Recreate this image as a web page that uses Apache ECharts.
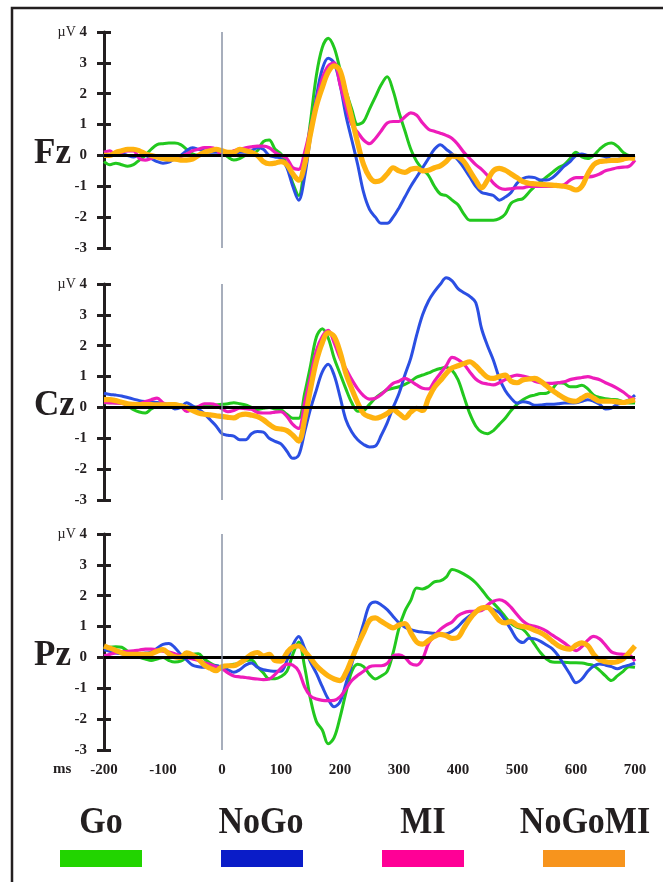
<!DOCTYPE html>
<html>
<head>
<meta charset="utf-8">
<script src="https://cdn.jsdelivr.net/npm/echarts@6/dist/echarts.min.js"></script>
<style>
  html, body { margin: 0; padding: 0; background: #fff; }
  #chart { width: 663px; height: 882px; }
</style>
</head>
<body>
<div id="chart"></div>
<script>
// sampling grid, 10 ms steps
var times = [];
for (var t = -200; t <= 700; t += 10) times.push(t);

var conditions = ['Go', 'NoGo', 'MI', 'NoGoMI'];
var panels = ['Fz', 'Cz', 'Pz'];
var xTicks = [-200, -100, 0, 100, 200, 300, 400, 500, 600, 700];
var yTicks = [-3, -2, -1, 0, 1, 2, 3, 4];

// Fz
var fzGo = [
  -0.2, -0.3, -0.25, -0.3, -0.35, -0.3, -0.15, 0.0, 0.2, 0.35,
  0.38, 0.4, 0.4, 0.35, 0.2, 0.05, 0.0, 0.1, 0.15, 0.15,
  0.1, -0.05, -0.15, -0.1, 0.0, 0.05, 0.15, 0.45, 0.5, 0.2,
  0.05, -0.3, -0.9, -1.3, -0.3, 1.1, 2.6, 3.5, 3.8, 3.5,
  2.8, 2.1, 1.5, 1.0, 1.1, 1.5, 1.9, 2.3, 2.55, 2.1,
  1.4, 0.8, 0.2, -0.2, -0.45, -0.65, -1.0, -1.25, -1.3, -1.45,
  -1.6, -1.9, -2.1, -2.1, -2.1, -2.1, -2.1, -2.05, -1.9, -1.55,
  -1.45, -1.4, -1.2, -1.0, -0.85, -0.7, -0.55, -0.4, -0.3, -0.1,
  0.1, -0.05, -0.1, 0.0, 0.2, 0.35, 0.4, 0.3, 0.1, 0.0,
  0.0];
var fzNoGo = [
  0.05, 0.0, 0.05, 0.05, 0.0, -0.05, 0.0, 0.0, -0.1, -0.2,
  -0.25, -0.22, -0.1, 0.0, 0.15, 0.25, 0.2, 0.15, 0.1, 0.1,
  0.1, 0.05, 0.05, 0.1, 0.1, 0.15, 0.25, 0.2, 0.0, -0.05,
  -0.1, -0.4, -1.0, -1.45, -0.7, 0.6, 1.9, 2.8, 3.15, 3.0,
  2.3, 1.3, 0.5, -0.3, -1.2, -1.75, -2.0, -2.2, -2.2, -2.0,
  -1.7, -1.35, -1.0, -0.7, -0.4, -0.1, 0.2, 0.35, 0.2, 0.05,
  -0.15, -0.4, -0.7, -1.0, -1.2, -1.25, -1.3, -1.45, -1.35, -1.2,
  -0.9, -0.75, -0.7, -0.72, -0.8, -0.8, -0.72, -0.55, -0.35, -0.2,
  0.0, 0.05, 0.0, 0.0, 0.0, -0.05, -0.12, -0.12, -0.1, -0.1,
  -0.08];
var fzMI = [
  0.1, 0.15, 0.0, 0.1, 0.15, 0.15, -0.1, -0.15, -0.1, -0.05,
  -0.05, -0.05, -0.05, -0.03, 0.05, 0.15, 0.2, 0.25, 0.25, 0.2,
  0.0, 0.05, 0.15, 0.2, 0.25, 0.28, 0.3, 0.3, 0.25, 0.1,
  0.0, -0.1, -0.4, -0.45, 0.1, 0.9, 1.75, 2.5, 2.9, 3.0,
  2.3, 1.6, 1.0, 0.75, 0.5, 0.38, 0.55, 0.8, 1.05, 1.1,
  1.1, 1.25, 1.38, 1.3, 1.05, 0.85, 0.78, 0.72, 0.65, 0.55,
  0.35, 0.1, -0.1, -0.3, -0.45, -0.65, -0.9, -1.05, -1.1, -1.08,
  -1.05, -1.05, -1.0, -1.0, -1.0, -1.0, -1.0, -1.0, -0.95, -0.8,
  -0.72, -0.72, -0.7, -0.67, -0.6, -0.5, -0.45, -0.4, -0.38, -0.35,
  -0.15];
var fzNoGoMI = [
  0.0, 0.0, 0.1, 0.15, 0.2, 0.2, 0.15, 0.05, 0.0, -0.05,
  -0.1, -0.12, -0.12, -0.15, -0.15, -0.12, 0.0, 0.1, 0.15, 0.2,
  0.15, 0.1, 0.1, 0.2, 0.15, 0.1, 0.0, -0.2, -0.27, -0.25,
  -0.2, -0.3, -0.6, -0.8, -0.3, 0.7, 1.6, 2.2, 2.7, 2.9,
  2.75, 2.0, 1.2, 0.4, -0.3, -0.7, -0.85, -0.8, -0.6, -0.4,
  -0.5, -0.55, -0.45, -0.42, -0.5, -0.48, -0.4, -0.34, -0.2, -0.02,
  -0.05, -0.2, -0.5, -0.8, -1.05, -0.8, -0.5, -0.42, -0.48, -0.6,
  -0.72, -0.85, -0.9, -0.92, -0.94, -0.95, -0.96, -0.98, -1.0, -1.05,
  -1.12, -1.0, -0.6, -0.3, -0.2, -0.18, -0.16, -0.16, -0.12, -0.08,
  -0.1];

// Cz
var czGo = [
  0.15, 0.15, 0.15, 0.14, 0.05, -0.07, -0.15, -0.18, -0.05, 0.05,
  0.1, 0.1, 0.1, 0.08, 0.02, 0.0, 0.02, 0.05, 0.05, 0.08,
  0.1, 0.12, 0.15, 0.12, 0.08, 0.0, -0.07, -0.03, 0.0, -0.05,
  -0.08, -0.22, -0.35, -0.35, 0.45, 1.35, 2.28, 2.55, 2.25, 1.6,
  1.1, 0.6, 0.15, -0.12, -0.1, 0.1, 0.3, 0.45, 0.57, 0.62,
  0.67, 0.75, 0.85, 0.98, 1.05, 1.12, 1.2, 1.26, 1.3, 1.2,
  0.9, 0.35, -0.2, -0.6, -0.8, -0.85, -0.75, -0.55, -0.35, -0.1,
  0.1, 0.25, 0.35, 0.4, 0.45, 0.46, 0.6, 0.8, 0.78, 0.67,
  0.67, 0.72, 0.6, 0.4, 0.32, 0.28, 0.26, 0.25, 0.18, 0.14,
  0.14];
var czNoGo = [
  0.46, 0.42, 0.4, 0.37, 0.32, 0.27, 0.22, 0.19, 0.17, 0.16,
  0.12, 0.09, -0.05, 0.0, 0.15, 0.05, -0.05, -0.2, -0.4, -0.6,
  -0.85, -0.9, -0.93, -1.05, -1.05, -0.85, -0.78, -0.8, -1.0, -1.1,
  -1.18, -1.42, -1.65, -1.55, -0.8, -0.05, 0.57, 1.15, 1.4, 1.05,
  0.35, -0.4, -0.8, -1.05, -1.2, -1.28, -1.25, -0.9, -0.5, 0.0,
  0.45, 1.05, 1.6, 2.35, 3.0, 3.45, 3.75, 3.99, 4.2, 4.1,
  3.85, 3.72, 3.6, 3.4, 2.55, 2.0, 1.53, 0.95, 0.55, 0.3,
  0.14, 0.18, 0.15, 0.07, 0.08, 0.1, 0.1, 0.12, 0.14, 0.14,
  0.15, 0.2, 0.25, 0.2, 0.1, -0.05, -0.02, 0.1, 0.17, 0.25,
  0.4];
var czMI = [
  0.16, 0.15, 0.14, 0.13, 0.1, 0.09, 0.12, 0.19, 0.25, 0.3,
  0.15, 0.06, 0.04, 0.03, -0.13, -0.05, 0.03, 0.12, 0.12, 0.08,
  -0.05, -0.14, -0.1, -0.02, -0.04, -0.06, -0.16, -0.18, -0.18, -0.15,
  -0.14, -0.29, -0.55, -0.68, 0.15, 1.0, 1.85, 2.3, 2.5, 2.1,
  1.6, 1.25, 0.9, 0.6, 0.38, 0.27, 0.3, 0.42, 0.6, 0.78,
  0.85, 0.94, 0.85, 0.73, 0.62, 0.6, 0.85, 1.1, 1.35, 1.62,
  1.55, 1.4, 1.15, 0.92, 0.8, 0.76, 0.73, 0.8, 0.9, 1.0,
  1.05, 1.02, 0.97, 0.85, 0.8, 0.78, 0.78, 0.8, 0.83, 0.9,
  0.94, 0.97, 1.0, 0.95, 0.9, 0.8, 0.72, 0.62, 0.5, 0.35,
  0.25];
var czNoGoMI = [
  0.25, 0.25, 0.22, 0.17, 0.12, 0.1, 0.09, 0.09, 0.09, 0.08,
  0.08, 0.09, 0.09, 0.05, 0.0, -0.1, -0.18, -0.22, -0.24, -0.27,
  -0.29, -0.32, -0.34, -0.25, -0.22, -0.25, -0.3, -0.4, -0.55, -0.67,
  -0.7, -0.75, -0.9, -1.09, -0.4, 0.6, 1.5, 2.1, 2.42, 2.3,
  1.8, 1.1, 0.6, 0.15, -0.2, -0.3, -0.35, -0.3, -0.2, -0.07,
  -0.2, -0.34, -0.15, -0.03, -0.1, 0.3, 0.65, 0.87, 1.1, 1.28,
  1.35, 1.42, 1.48, 1.35, 1.15, 0.98, 0.94, 1.0, 1.05, 0.85,
  0.8, 0.89, 0.92, 0.94, 0.85, 0.7, 0.55, 0.42, 0.3, 0.22,
  0.2, 0.3, 0.4, 0.3, 0.2, 0.2, 0.2, 0.18, 0.16, 0.2,
  0.25];

// Pz
var pzGo = [
  0.27, 0.33, 0.35, 0.33, 0.2, 0.1, 0.0, -0.05, -0.1, -0.05,
  0.0, -0.1, -0.15, -0.12, 0.0, 0.1, 0.12, -0.05, -0.18, -0.27,
  -0.3, -0.27, -0.22, -0.2, -0.1, -0.08, -0.3, -0.5, -0.69, -0.69,
  -0.62, -0.45, 0.1, 0.5, -0.3, -1.35, -2.08, -2.35, -2.8, -2.6,
  -1.95, -1.15, -0.45, -0.22, -0.3, -0.55, -0.7, -0.6, -0.45, 0.15,
  0.95, 1.5, 1.85, 2.25, 2.22, 2.3, 2.45, 2.48, 2.6, 2.85,
  2.8, 2.7, 2.58, 2.42, 2.2, 1.95, 1.76, 1.55, 1.32, 1.1,
  0.98, 0.91, 0.7, 0.42, 0.15, -0.05, -0.15, -0.16, -0.16, -0.17,
  -0.17, -0.18, -0.22, -0.27, -0.42, -0.6, -0.75, -0.6, -0.45, -0.3,
  -0.32];
var pzNoGo = [
  0.25, 0.2, 0.14, 0.12, 0.1, 0.1, 0.12, 0.14, 0.17, 0.3,
  0.42, 0.45, 0.32, 0.1, -0.08, -0.25, -0.3, -0.32, -0.28, -0.27,
  -0.32, -0.4, -0.48, -0.4, -0.25, -0.18, -0.32, -0.4, -0.43, -0.45,
  -0.45, -0.1, 0.4, 0.68, 0.3, -0.15, -0.52, -0.95, -1.35, -1.6,
  -1.44, -0.85, -0.2, 0.45, 1.1, 1.7, 1.8, 1.7, 1.55, 1.33,
  1.12, 0.98, 0.9, 0.85, 0.82, 0.8, 0.78, 0.75, 0.76, 0.85,
  1.0, 1.2, 1.35, 1.48, 1.55, 1.6, 1.55, 1.45, 1.2, 0.9,
  0.59, 0.48, 0.62, 0.6, 0.52, 0.4, 0.28, 0.05, -0.25, -0.55,
  -0.82, -0.7, -0.45, -0.28, -0.21, -0.25, -0.3, -0.37, -0.3, -0.25,
  -0.18];
var pzMI = [
  0.05, 0.1, 0.15, 0.18, 0.2, 0.21, 0.24, 0.27, 0.27, 0.25,
  0.2, 0.17, 0.12, 0.05, 0.0, -0.05, -0.1, -0.17, -0.23, -0.3,
  -0.37, -0.5, -0.6, -0.63, -0.65, -0.68, -0.7, -0.72, -0.7, -0.55,
  -0.35, -0.22, -0.25, -0.45, -0.95, -1.25, -1.35, -1.39, -1.4, -1.39,
  -1.28, -1.02, -0.75, -0.58, -0.45, -0.3, -0.27, -0.27, -0.2, 0.05,
  0.08, 0.0, -0.2, -0.25, -0.05, 0.45, 0.7, 0.91, 1.05, 1.15,
  1.35, 1.45, 1.49, 1.5, 1.52, 1.7, 1.82, 1.87, 1.8, 1.62,
  1.39, 1.18, 1.05, 1.01, 0.95, 0.85, 0.72, 0.6, 0.47, 0.33,
  0.22, 0.35, 0.56, 0.68, 0.6, 0.4, 0.18, 0.12, 0.1, 0.08,
  -0.12];
var pzNoGoMI = [
  0.37, 0.3, 0.23, 0.15, 0.1, 0.1, 0.1, 0.1, 0.12, 0.2,
  0.25, 0.12, 0.02, 0.0, 0.15, 0.08, -0.05, -0.25, -0.35, -0.43,
  -0.3, -0.27, -0.27, -0.18, -0.05, 0.1, 0.16, 0.05, 0.1, -0.1,
  -0.12, 0.15, 0.34, 0.37, 0.2, -0.02, -0.27, -0.45, -0.6, -0.7,
  -0.75, -0.5, -0.05, 0.4, 0.8, 1.2, 1.28, 1.17, 1.05, 0.96,
  1.05, 1.1, 0.8, 0.5, 0.43, 0.55, 0.68, 0.75, 0.7, 0.62,
  0.65, 0.95, 1.25, 1.47, 1.6, 1.62, 1.44, 1.2, 1.12, 1.17,
  1.05, 1.0, 0.96, 0.88, 0.8, 0.68, 0.52, 0.38, 0.3, 0.27,
  0.4, 0.47, 0.38, 0.1, -0.08, -0.14, -0.16, -0.14, -0.05, 0.15,
  0.37];

var waves = [
  [fzGo, fzNoGo, fzMI, fzNoGoMI],
  [czGo, czNoGo, czMI, czNoGoMI],
  [pzGo, pzNoGo, pzMI, pzNoGoMI]
];

var lineColors = ['#22c81e', '#2b4fe3', '#ee1cba', '#ffb20f'];
var legendColors = ['#22d400', '#0a1cc8', '#ff0096', '#f7941d'];
var lineWidths = [3, 3, 3.2, 5.2];

var ink = '#231f20';
var serif = '"Liberation Serif", "DejaVu Serif", serif';
var gridTops = [32, 284, 534];

var myChart = echarts.init(document.getElementById('chart'));

var grids = [], xAxes = [], yAxes = [], series = [], graphics = [];

gridTops.forEach(function (top, gi) {
  grids.push({ left: 104, width: 531, top: top, height: 216 });

  xAxes.push({
    gridIndex: gi, type: 'value', min: -200, max: 700, interval: 100,
    axisLine: { show: false, onZero: false },
    axisTick: { show: false },
    splitLine: { show: false },
    axisLabel: {
      show: gi === 2, margin: 13, color: ink,
      fontFamily: serif, fontWeight: 'bold', fontSize: 15,
      customValues: xTicks
    }
  });

  // outer half of the cross ticks + labels
  yAxes.push({
    gridIndex: gi, type: 'value', min: -3, max: 4, interval: 1,
    axisLine: { show: true, onZero: false, lineStyle: { color: ink, width: 3 } },
    axisTick: { show: true, length: 7, lineStyle: { color: ink, width: 3 } },
    splitLine: { show: false },
    axisLabel: {
      margin: 17, color: ink, fontFamily: serif, fontWeight: 'bold', fontSize: 15,
      customValues: yTicks,
      formatter: function (v) { return v === 4 ? '{u|µV} 4' : String(v); },
      rich: { u: { fontFamily: serif, fontWeight: 'normal', fontSize: 14, color: ink } }
    }
  });
  // inner half of the cross ticks
  yAxes.push({
    gridIndex: gi, type: 'value', min: -3, max: 4, interval: 1, position: 'left',
    axisLine: { show: false, onZero: false },
    axisTick: { show: true, inside: true, length: 7, lineStyle: { color: ink, width: 3 } },
    axisLabel: { show: false },
    splitLine: { show: false }
  });

  conditions.forEach(function (name, ci) {
    var vals = waves[gi][ci];
    var s = {
      name: name, type: 'line',
      xAxisIndex: gi, yAxisIndex: gi * 2,
      showSymbol: false, smooth: 0.35, silent: true, clip: false,
      lineStyle: { color: lineColors[ci], width: lineWidths[ci] },
      itemStyle: { color: lineColors[ci] },
      data: times.map(function (t, i) { return [t, vals[i]]; })
    };
    if (ci === 3) {
      s.markLine = {
        silent: true, symbol: 'none', animation: false,
        label: { show: false },
        data: [
          { yAxis: 0, lineStyle: { color: '#000', width: 3, type: 'solid' } },
          { xAxis: 0, lineStyle: { color: '#8a93a6', width: 1.5, type: 'solid' } }
        ]
      };
    }
    series.push(s);
  });

  graphics.push({
    type: 'text', left: 34, top: top + 124 - 20,
    style: { text: panels[gi], font: 'bold 35px ' + serif, fill: ink }
  });
});

// frame
graphics.push({
  type: 'rect', shape: { x: 12, y: 8, width: 720, height: 920 },
  style: { fill: 'none', stroke: ink, lineWidth: 2.5 }
});
graphics.push({
  type: 'text', left: 53, top: 762,
  style: { text: 'ms', font: 'bold 15px ' + serif, fill: ink }
});

// legend names sit above the colour bars
var legendCenters = [101, 261, 423, 585];
conditions.forEach(function (name, ci) {
  graphics.push({
    type: 'text', x: legendCenters[ci], y: 842, scaleY: 1.1,
    style: { text: name, font: 'bold 34px ' + serif, fill: ink, align: 'center', verticalAlign: 'bottom' }
  });
});

myChart.setOption({
  animation: false,
  grid: grids,
  xAxis: xAxes,
  yAxis: yAxes,
  legend: {
    left: 55, top: 845, itemWidth: 82, itemHeight: 17, itemGap: 79,
    icon: 'rect', selectedMode: false,
    formatter: function () { return ''; },
    data: conditions.map(function (name, ci) {
      return { name: name, itemStyle: { color: legendColors[ci] } };
    })
  },
  graphic: graphics,
  series: series
});
</script>
</body>
</html>
